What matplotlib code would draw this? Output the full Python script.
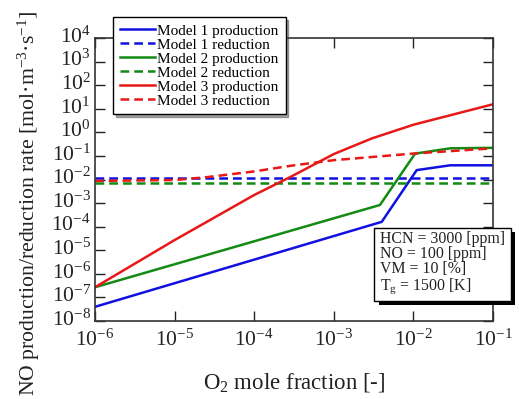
import matplotlib
matplotlib.use("Agg")
import matplotlib.pyplot as plt
import matplotlib.patheffects as pe
import matplotlib.transforms as mtransforms
from matplotlib.ticker import LogLocator, NullLocator

plt.rcParams['font.family'] = ['Liberation Serif', 'DejaVu Serif']
plt.rcParams['mathtext.fontset'] = 'custom'
plt.rcParams['mathtext.rm'] = 'Liberation Serif'
plt.rcParams['mathtext.it'] = 'Liberation Serif:italic'
plt.rcParams['mathtext.default'] = 'regular'
plt.rcParams['axes.unicode_minus'] = False

# Data
m1_prod_x = [1e-6, 4.0e-3, 1.1e-2, 2.9e-2, 1e-1]
m1_prod_y = [4.0e-8, 1.6e-4, 2.5e-2, 4.0e-2, 4.0e-2]
m1_red_x = [1e-6, 1e-1]
m1_red_y = [1.17e-2, 1.17e-2]

m2_prod_x = [1e-6, 3.8e-3, 1.05e-2, 2.9e-2, 1e-1]
m2_prod_y = [2.7e-7, 8.3e-4, 0.125, 0.21, 0.22]
m2_red_x = [1e-6, 1e-1]
m2_red_y = [7.2e-3, 7.2e-3]

m3_prod_x = [1e-6, 1e-5, 1e-4, 3e-4, 1e-3, 3e-3, 1e-2, 1e-1]
m3_prod_y = [2.7e-7, 2.7e-5, 2.2e-3, 1.4e-2, 0.12, 0.55, 2.1, 15.5]
m3_red_x = [1e-6, 1e-5, 2.5e-5, 1e-4, 3e-4, 1e-3, 1e-2, 1e-1]
m3_red_y = [8.7e-3, 9.5e-3, 1.25e-2, 2.2e-2, 3.9e-2, 6.6e-2, 0.126, 0.21]

labels = ['Model 1 production', 'Model 1 reduction',
          'Model 2 production', 'Model 2 reduction',
          'Model 3 production', 'Model 3 reduction']
info_lines = ['HCN = 3000 [ppm]', 'NO = 100 [ppm]', 'VM = 10 [%]',
              'T$_\\mathrm{g}$ = 1500 [K]']

blue = '#1010e0'
green = '#138a13'
red = '#e81818'

fig = plt.figure(figsize=(5.19, 3.99), dpi=100)
ax = fig.add_axes([95/519, 1-321/399, (493-95)/519, (321-38)/399])

lw = 1.8
dash = (0, (3.5, 2))
ax.plot(m1_prod_x, m1_prod_y, color=blue, lw=lw, label=labels[0])
ax.plot(m1_red_x, m1_red_y, color=blue, lw=lw, ls=dash, label=labels[1])
ax.plot(m2_prod_x, m2_prod_y, color=green, lw=lw, label=labels[2])
ax.plot(m2_red_x, m2_red_y, color=green, lw=lw, ls=dash, label=labels[3])
ax.plot(m3_prod_x, m3_prod_y, color=red, lw=lw, label=labels[4])
ax.plot(m3_red_x, m3_red_y, color=red, lw=lw, ls=dash, label=labels[5])

ax.set_xscale('log')
ax.set_yscale('log')
ax.set_xlim(1e-6, 1e-1)
ax.set_ylim(1e-8, 1e4)
ax.xaxis.set_major_locator(LogLocator(base=10, numticks=20))
ax.yaxis.set_major_locator(LogLocator(base=10, numticks=20))
ax.xaxis.set_minor_locator(NullLocator())
ax.yaxis.set_minor_locator(NullLocator())
ax.tick_params(which='major', direction='in', length=7, width=1.0,
               top=True, right=True, labelsize=15.5, colors='#222222',
               labelcolor='#222222', pad=3)
ax.tick_params(axis='x', pad=6.5)
for s in ax.spines.values():
    s.set_linewidth(1.2)
    s.set_color('#333333')

# nudge y tick labels up slightly so the "10" sits centred on its tick
offset = mtransforms.ScaledTranslation(0, 2.5/72, fig.dpi_scale_trans)
for lab in ax.get_yticklabels():
    lab.set_transform(lab.get_transform() + offset)

ax.set_xlabel('O$_2$ mole fraction [-]', fontsize=16.5, color='#222222')
ax.xaxis.set_label_coords((294-95)/(493-95), -(383-321)/(321-38), transform=ax.transAxes)
ax.xaxis.label.set_va('center')
ax.set_ylabel('NO production/reduction rate [mol·m$^{-3}$·s$^{-1}$]',
              fontsize=15.7, color='#222222')
ax.yaxis.set_label_coords(-(95-29)/(493-95), (321-203)/(321-38))
ax.yaxis.label.set_va('center')

leg = ax.legend(loc='upper left', bbox_to_anchor=(113/519, 1-17/399),
                bbox_transform=fig.transFigure, fontsize=11, frameon=True,
                fancybox=False, shadow=True, framealpha=1, edgecolor='black',
                handlelength=2.3, handletextpad=0.15, labelspacing=0.02,
                borderpad=0.45, borderaxespad=0)
leg.get_frame().set_linewidth(1.0)

txt = fig.text(380/519, 1-231/399, '\n'.join(info_lines), fontsize=11.4,
               va='top', ha='left', color='#222222', linespacing=0.92,
               bbox=dict(boxstyle='square,pad=0.35', fc='white', ec='black', lw=1.0))
txt.get_bbox_patch().set_path_effects([
    pe.withSimplePatchShadow(offset=(3, -3), shadow_rgbFace='black', alpha=1.0),
])

fig.savefig('out.png', dpi=100)
